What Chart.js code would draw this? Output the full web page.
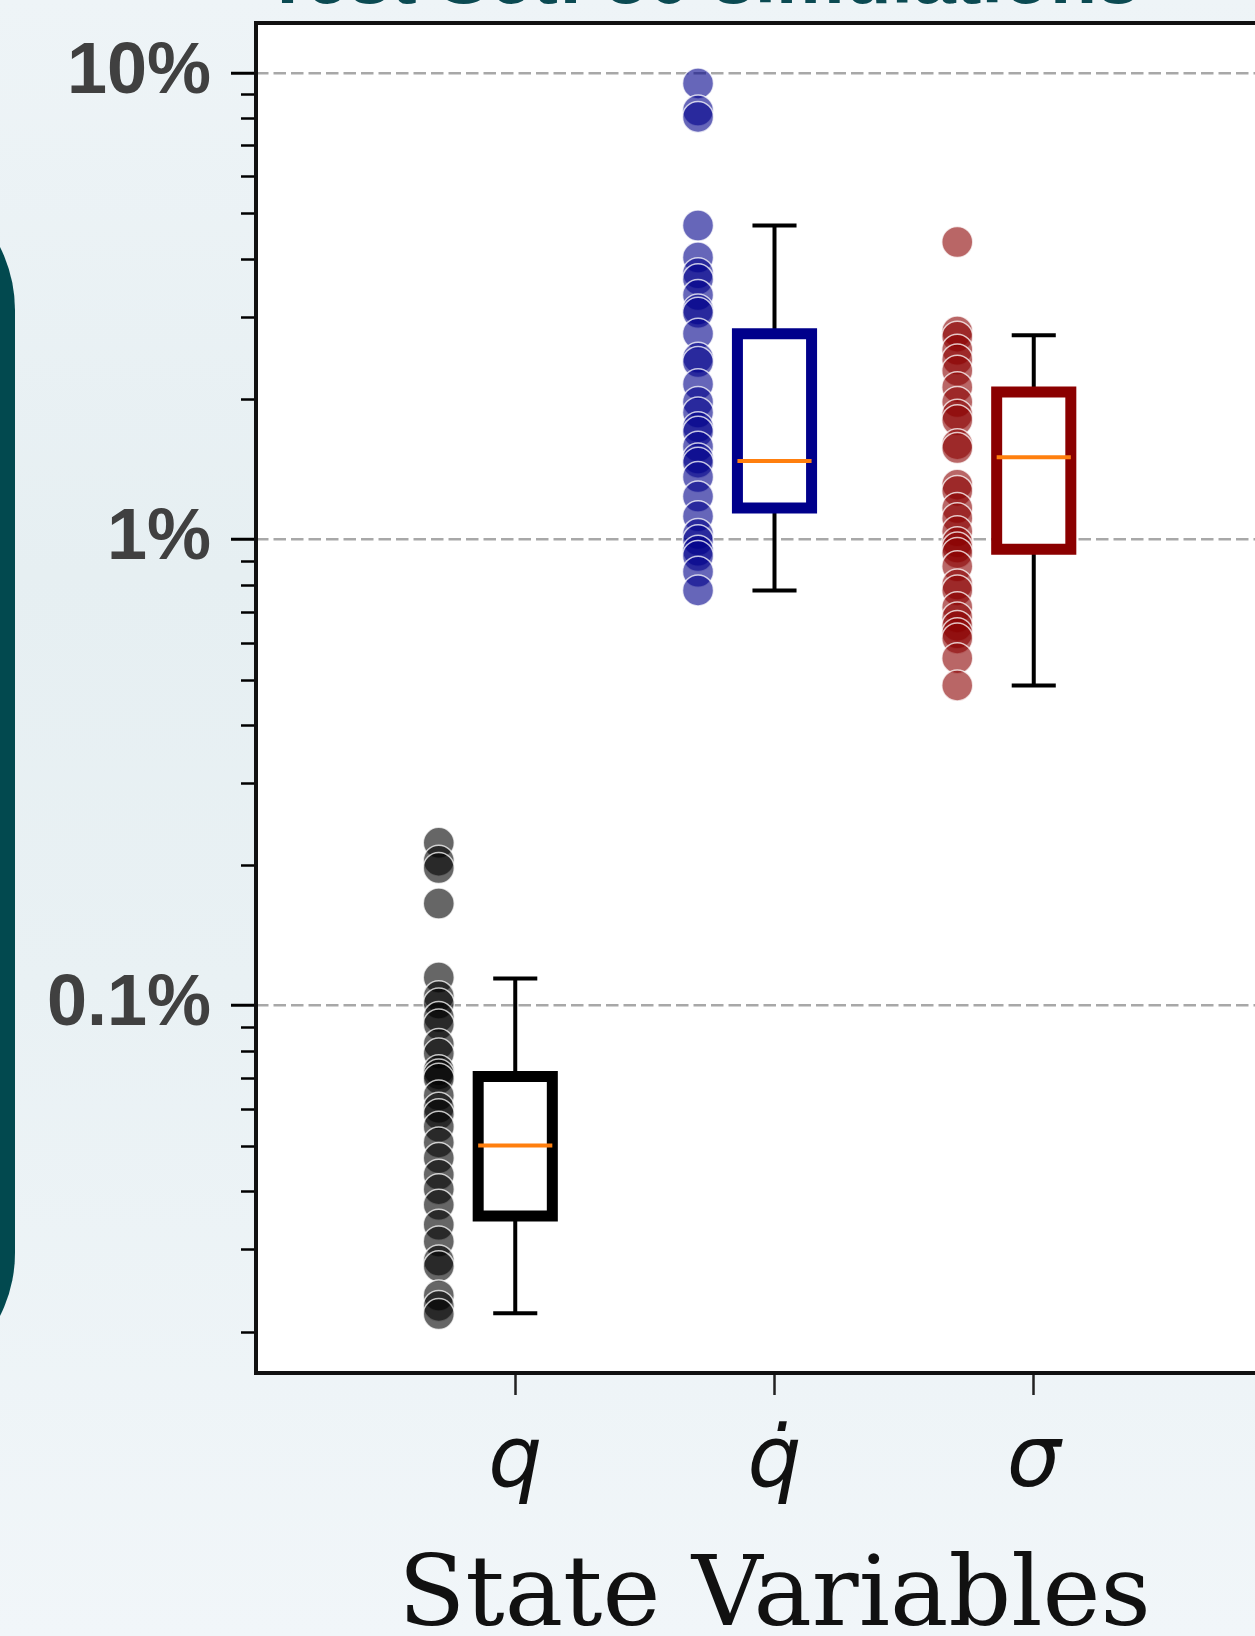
<!DOCTYPE html>
<html>
<head>
<meta charset="utf-8">
<script src="https://cdn.jsdelivr.net/npm/chart.js@4.4.1/dist/chart.umd.min.js"></script>
<style>
html, body { margin: 0; padding: 0; width: 1255px; height: 1636px; overflow: hidden; }
body { position: relative; background: linear-gradient(180deg, #eef4f7 0%, #e6eff2 35%, #e9f1f4 60%, #f1f6f9 100%); }
#panel { position: absolute; left: -400px; top: 170px; width: 415px; height: 1223px; border-radius: 140px; background: #02494f; }
#ttl { position: absolute; left: 264px; top: -62px; font: bold 77px/77px "Liberation Sans", Arial, sans-serif; color: #0b4a52; white-space: nowrap; }
#wrap { position: absolute; left: 0; top: 0; width: 1310px; height: 1636px; }
</style>
</head>
<body>
<div id="panel"></div>
<div id="ttl">Test Set: 30 simulations</div>
<div id="wrap"><canvas id="c" width="1310" height="1636"></canvas></div>
<script>
// ---------------- data (relative errors, %) ----------------
const categories = ['q', 'q\u0307', '\u03C3'];

const qErrors = [0.2234, 0.2046, 0.1973, 0.1656, 0.1149, 0.1047, 0.1010, 0.0945, 0.0911, 0.0827,
                 0.0789, 0.0727, 0.0712, 0.0697, 0.0642, 0.0604, 0.0585, 0.0550, 0.0509, 0.0471,
                 0.0434, 0.0404, 0.0374, 0.0339, 0.0312, 0.0284, 0.0276, 0.0239, 0.0227, 0.0218];

const qDotErrors = [9.50, 8.31, 8.05, 4.71, 4.02, 3.72, 3.61, 3.34, 3.11, 3.06,
                    2.76, 2.45, 2.40, 2.15, 1.97, 1.87, 1.74, 1.70, 1.58, 1.49,
                    1.46, 1.36, 1.235, 1.12, 1.026, 0.995, 0.945, 0.921, 0.852, 0.777];

const sigmaErrors = [4.34, 2.79, 2.72, 2.55, 2.43, 2.30, 2.12, 1.97, 1.85, 1.80,
                     1.60, 1.57, 1.31, 1.27, 1.167, 1.11, 1.04, 0.985, 0.96, 0.935,
                     0.875, 0.80, 0.777, 0.715, 0.68, 0.652, 0.629, 0.613, 0.556, 0.486];

const whiskerLow  = [0.0219, 0.777, 0.486];
const quartile1   = [0.0354, 1.167, 0.952];
const medians     = [0.0501, 1.472, 1.50];
const quartile3   = [0.0705, 2.76, 2.07];
const whiskerHigh = [0.1143, 4.71, 2.74];

const yMajorTicks  = [0.1, 1, 10];
const yMajorLabels = ['0.1%', '1%', '10%'];
const yMinorTicks  = [0.02, 0.03, 0.04, 0.05, 0.06, 0.07, 0.08, 0.09,
                      0.2, 0.3, 0.4, 0.5, 0.6, 0.7, 0.8, 0.9,
                      2, 3, 4, 5, 6, 7, 8, 9];

const seriesRGB = ['0,0,0', '0,0,139', '139,0,0'];
const xAxisTitle = 'State Variables';

// ---------------- styling constants ----------------
const STRIP_OFFSET = -0.295;
const BOX_HALF = 0.143;
const CAP_HALF = 0.085;

const pointSets = [qErrors, qDotErrors, sigmaErrors];
const datasets = [];

function seg(pts, color, width, order, extra) {
  return Object.assign({
    type: 'line', data: pts, borderColor: color, borderWidth: width,
    pointRadius: 0, tension: 0, fill: false, order: order,
    borderCapStyle: 'butt', borderJoinStyle: 'miter'
  }, extra || {});
}

categories.forEach((c, i) => {
  const x = i + 1;
  const col = 'rgb(' + seriesRGB[i] + ')';
  datasets.push({
    type: 'scatter',
    data: pointSets[i].map(v => ({ x: x + STRIP_OFFSET, y: v })),
    backgroundColor: 'rgba(' + seriesRGB[i] + ',0.6)',
    borderColor: 'rgba(255,255,255,0.75)',
    borderWidth: 1.5,
    pointRadius: 15.5,
    order: 4
  });
  datasets.push(seg([{ x: x, y: whiskerLow[i] }, { x: x, y: quartile1[i] }], '#000', 4, 3));
  datasets.push(seg([{ x: x, y: quartile3[i] }, { x: x, y: whiskerHigh[i] }], '#000', 4, 3));
  datasets.push(seg([{ x: x - CAP_HALF, y: whiskerLow[i] }, { x: x + CAP_HALF, y: whiskerLow[i] }], '#000', 4, 3));
  datasets.push(seg([{ x: x - CAP_HALF, y: whiskerHigh[i] }, { x: x + CAP_HALF, y: whiskerHigh[i] }], '#000', 4, 3));
  datasets.push(seg([
    { x: x - BOX_HALF, y: quartile1[i] }, { x: x + BOX_HALF, y: quartile1[i] },
    { x: x + BOX_HALF, y: quartile3[i] }, { x: x - BOX_HALF, y: quartile3[i] },
    { x: x - BOX_HALF, y: quartile1[i] }
  ], col, 11, 2, { fill: 'shape', backgroundColor: '#ffffff', borderCapStyle: 'square' }));
  datasets.push(seg([{ x: x - BOX_HALF, y: medians[i] }, { x: x + BOX_HALF, y: medians[i] }], '#ff7f0e', 4, 1));
});

const isMajor = v => yMajorTicks.includes(v);

const framePlugin = {
  id: 'frame',
  beforeDraw(chart) {
    const { ctx, chartArea: a } = chart;
    ctx.save();
    ctx.fillStyle = '#ffffff';
    ctx.fillRect(a.left, a.top, a.right - a.left, a.bottom - a.top);
    ctx.restore();
  },
  afterDraw(chart) {
    const { ctx, chartArea: a } = chart;
    const ys = chart.scales.y;
    ctx.save();
    ctx.strokeStyle = '#000';
    ctx.lineWidth = 2.5;
    ys.ticks.forEach(t => {
      if (!isMajor(t.value)) {
        const y = Math.round(ys.getPixelForValue(t.value)) + 0.5;
        ctx.beginPath();
        ctx.moveTo(a.left - 15, y);
        ctx.lineTo(a.left, y);
        ctx.stroke();
      }
    });
    ctx.strokeStyle = '#111';
    ctx.lineWidth = 4;
    ctx.strokeRect(a.left, a.top, a.right - a.left, a.bottom - a.top);
    ctx.restore();
  }
};

new Chart(document.getElementById('c'), {
  type: 'scatter',
  data: { datasets: datasets },
  plugins: [framePlugin],
  options: {
    responsive: false,
    animation: false,
    devicePixelRatio: 1,
    events: [],
    layout: { padding: { top: 23, right: 9, bottom: 0, left: 0 } },
    plugins: { legend: { display: false }, tooltip: { enabled: false } },
    scales: {
      x: {
        type: 'linear', min: 0, max: 4,
        afterBuildTicks: s => { s.ticks = categories.map((c, i) => ({ value: i + 1 })); },
        afterFit: s => { s.height = 263; },
        ticks: {
          autoSkip: false, maxRotation: 0,
          callback: (v, i) => categories[i],
          font: { family: 'DejaVu Sans', style: 'italic', size: 85 },
          color: '#111', padding: 18
        },
        grid: { drawOnChartArea: false, drawTicks: true, tickLength: 22, tickColor: '#222', tickWidth: 2.5, color: 'rgba(0,0,0,0)' },
        border: { display: false },
        title: {
          display: true, text: xAxisTitle, color: '#111',
          font: { family: 'DejaVu Serif', size: 98, lineHeight: 0.735 },
          padding: { top: 0, bottom: 0 }
        }
      },
      y: {
        type: 'logarithmic', min: 0.0163, max: 12.8,
        afterBuildTicks: s => {
          s.ticks = yMinorTicks.concat(yMajorTicks).sort((a, b) => a - b)
            .map(v => ({ value: v, major: false }));
        },
        afterFit: s => { s.width = 256; },
        ticks: {
          autoSkip: false,
          callback: v => { const k = yMajorTicks.indexOf(v); return k < 0 ? '' : yMajorLabels[k]; },
          font: { family: 'Liberation Sans', weight: 'bold', size: 72, lineHeight: 0.01 },
          color: '#404040', padding: 20
        },
        grid: {
          color: c => (c.tick && isMajor(c.tick.value)) ? '#a8a8a8' : 'rgba(0,0,0,0)',
          lineWidth: 2.5,
          tickLength: 25, tickWidth: 3,
          tickColor: c => (c.tick && isMajor(c.tick.value)) ? '#000' : 'rgba(0,0,0,0)'
        },
        border: { display: false, dash: [12.5, 5] }
      }
    }
  }
});
</script>
</body>
</html>
